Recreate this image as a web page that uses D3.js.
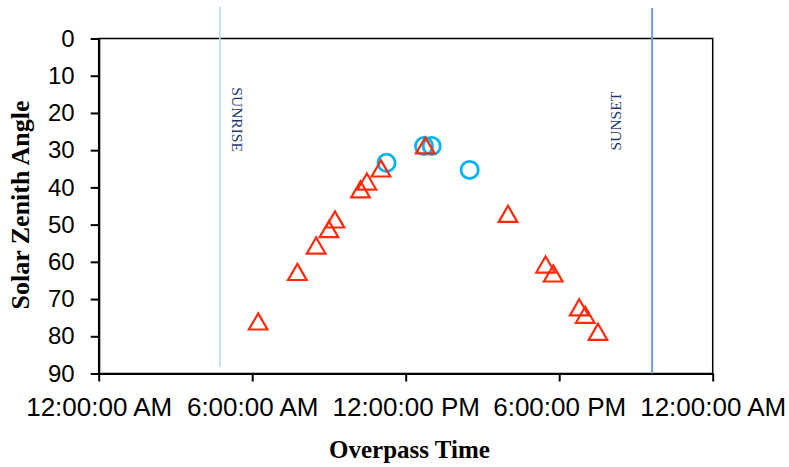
<!DOCTYPE html>
<html>
<head>
<meta charset="utf-8">
<script src="https://cdn.jsdelivr.net/npm/d3@7"></script>
<style>
  body { margin: 0; background: #fff; }
  .container { width: 789px; height: 467px; }
</style>
</head>
<body>
<div class="container"></div>
<script>
  // overpass data (time of day, solar zenith angle)
  var triTimes = ["06:14", "07:46", "08:30", "09:00", "09:14", "10:14", "10:29", "11:02", "12:46",
                  "16:00", "17:28", "17:46", "18:47", "19:01", "19:31"];
  var triAngles = [76.2, 62.9, 55.8, 51.4, 48.8, 40.7, 38.6, 35.1, 28.9,
                   47.3, 60.9, 63.3, 72.4, 74.4, 79.0];

  var circTimes = ["11:15", "12:43", "13:01", "14:30"];
  var circAngles = [33.4, 28.9, 28.9, 35.3];

  // sunrise / sunset markers
  var sunLabels = ["SUNRISE", "SUNSET"];
  var sunTimes = ["04:44", "21:38"];
  var sunTop = [-8.5, -8.2];
  var sunBottom = [88.3, 90];

  var yTicks = [0, 10, 20, 30, 40, 50, 60, 70, 80, 90];

  // Frame attributes
  var w = 789;
  var h = 467;
  var plotLeft = 98.7, plotRight = 712.7, plotTop = 38.5, plotBottom = 373.5;

  var svg = d3.select(".container").append("svg").attr("width", w).attr("height", h);

  var parseTime = d3.timeParse("%Y-%m-%d %H:%M");
  function toDate(t) { return parseTime("2000-01-01 " + t); }

  var x = d3.scaleTime()
    .domain([toDate("00:00"), d3.timeDay.offset(toDate("00:00"), 1)])
    .range([plotLeft, plotRight]);

  var y = d3.scaleLinear().domain([0, 90]).range([plotTop, plotBottom]);

  //plot box
  svg.append("rect")
    .attr("x", plotLeft).attr("y", plotTop)
    .attr("width", plotRight - plotLeft).attr("height", plotBottom - plotTop)
    .attr("fill", "none").attr("stroke", "#000").attr("stroke-width", 1.5);

  //y axis
  var yAxis = svg.append("g")
    .attr("transform", "translate(" + plotLeft + ",0)")
    .call(d3.axisLeft(y).tickValues(yTicks).tickSize(8).tickPadding(16).tickSizeOuter(0));
  yAxis.selectAll("text").style("font-family", "Liberation Sans, Arial, sans-serif").style("font-size", "24px").attr("fill", "#000");
  yAxis.select(".domain").attr("stroke-width", 2.2);
  yAxis.selectAll(".tick line").attr("stroke-width", 2);

  //x axis
  var xAxis = svg.append("g")
    .attr("transform", "translate(0," + plotBottom + ")")
    .call(d3.axisBottom(x).ticks(d3.timeHour.every(6)).tickFormat(d3.timeFormat("%-I:%M:%S %p"))
      .tickSize(8).tickPadding(16).tickSizeOuter(0));
  xAxis.selectAll("text").style("font-family", "Liberation Sans, Arial, sans-serif").style("font-size", "26px").attr("fill", "#000");
  xAxis.select(".domain").attr("stroke-width", 2.2);
  xAxis.selectAll(".tick line").attr("stroke-width", 2);

  //sunrise & sunset lines
  var sunColors = ["#b7dde6", "#6e9fd9"];
  var sunWidths = [1.6, 2];
  sunLabels.forEach(function(label, i) {
    svg.append("line")
      .attr("x1", x(toDate(sunTimes[i]))).attr("x2", x(toDate(sunTimes[i])))
      .attr("y1", y(sunTop[i])).attr("y2", y(sunBottom[i]))
      .attr("stroke", sunColors[i]).attr("stroke-width", sunWidths[i]);
  });

  svg.append("text")
    .attr("transform", "translate(" + (x(toDate(sunTimes[0])) + 17.5) + "," + y(21.8) + ") rotate(90)")
    .attr("text-anchor", "middle").attr("dominant-baseline", "central")
    .style("font-family", "Liberation Serif, Times New Roman, serif").style("font-size", "15.5px")
    .attr("fill", "#1f3a6e")
    .text(sunLabels[0]);

  svg.append("text")
    .attr("transform", "translate(" + (x(toDate(sunTimes[1])) - 37) + "," + y(22.2) + ") rotate(-90)")
    .attr("text-anchor", "middle").attr("dominant-baseline", "central")
    .style("font-family", "Liberation Serif, Times New Roman, serif").style("font-size", "15.5px")
    .attr("fill", "#1f3a6e")
    .text(sunLabels[1]);

  //circles
  svg.append("g")
    .selectAll("circle")
    .data(circTimes)
    .enter()
    .append("circle")
    .attr("cx", function(d) { return x(toDate(d)); })
    .attr("cy", function(d, i) { return y(circAngles[i]); })
    .attr("r", 8.6)
    .attr("fill", "none")
    .attr("stroke", "#00b4ef")
    .attr("stroke-width", 2.8);

  //triangles
  var tri = d3.symbol().type(d3.symbolTriangle).size(150);
  svg.append("g")
    .selectAll("path")
    .data(triTimes)
    .enter()
    .append("path")
    .attr("d", tri)
    .attr("transform", function(d, i) {
      return "translate(" + x(toDate(d)) + "," + (y(triAngles[i]) + 2) + ")";
    })
    .attr("fill", "none")
    .attr("stroke", "#ff2a0a")
    .attr("stroke-width", 2.2);

  //axis titles
  svg.append("text")
    .attr("x", 409.5).attr("y", 458)
    .attr("text-anchor", "middle")
    .style("font-family", "Liberation Serif, Times New Roman, serif").style("font-size", "25px").style("font-weight", "bold")
    .text("Overpass Time");

  svg.append("text")
    .attr("transform", "translate(29,205) rotate(-90)")
    .attr("text-anchor", "middle")
    .style("font-family", "Liberation Serif, Times New Roman, serif").style("font-size", "26px").style("font-weight", "bold")
    .text("Solar Zenith Angle");
</script>
</body>
</html>
